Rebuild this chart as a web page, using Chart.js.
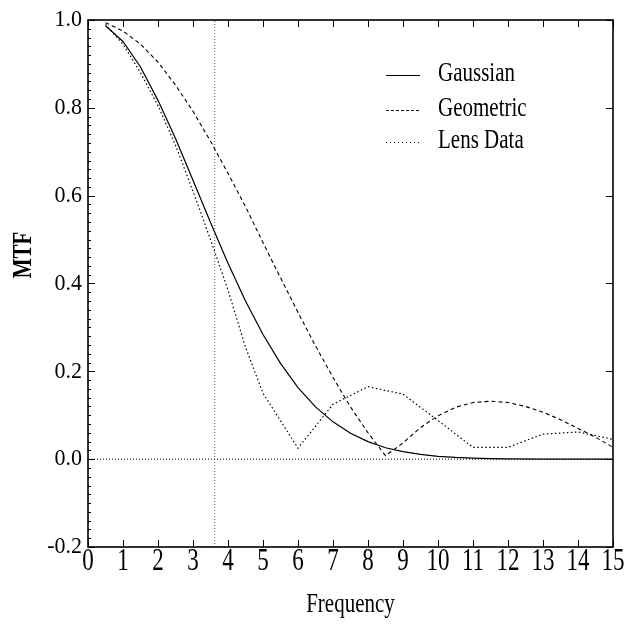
<!DOCTYPE html>
<html>
<head>
<meta charset="utf-8">
<script src="https://cdn.jsdelivr.net/npm/chart.js@4"></script>
<style>
    html, body { margin: 0; padding: 0; background: #fff; }
    #wrap { width: 626px; height: 624px; position: relative; }
</style>
</head>
<body>
<div id="wrap"><canvas id="mtfChart"></canvas></div>
<script>
// Gaussian model MTF
const freqGauss = [0.5, 1, 1.5, 2, 2.5, 3, 3.5, 4, 4.5, 5, 5.5, 6, 6.5, 7, 7.5, 8, 8.5, 9, 9.5, 10, 10.5, 11, 11.5, 12, 13, 14, 15];
const mtfGauss = [0.987, 0.951, 0.893, 0.817, 0.730, 0.635, 0.539, 0.446, 0.360, 0.284, 0.218, 0.163, 0.119, 0.085, 0.059, 0.040, 0.026, 0.017, 0.011, 0.0065, 0.0039, 0.0023, 0.0013, 0.0007, 0.0002, 0.0001, 0];

// Geometric (blur disc) MTF
const freqGeom = [0.5, 1, 1.5, 2, 2.5, 3, 3.5, 4, 4.5, 5, 5.5, 6, 6.5, 7, 7.5, 8, 8.5, 9, 9.5, 10, 10.5, 11, 11.5, 12, 12.5, 13, 13.5, 14, 14.5, 15];
const mtfGeom = [0.994, 0.975, 0.945, 0.904, 0.852, 0.792, 0.724, 0.651, 0.575, 0.493, 0.413, 0.334, 0.258, 0.186, 0.119, 0.060, 0.008, 0.037, 0.072, 0.099, 0.118, 0.129, 0.132, 0.129, 0.120, 0.107, 0.090, 0.070, 0.050, 0.027];

// Measured lens data
const freqLens = [0.5, 1, 1.5, 2, 2.5, 3, 3.5, 4, 4.5, 5, 6, 7, 8, 9, 10, 11, 12, 13, 14, 15];
const mtfLens = [0.99, 0.945, 0.88, 0.805, 0.715, 0.61, 0.50, 0.385, 0.255, 0.15, 0.025, 0.125, 0.165, 0.148, 0.088, 0.027, 0.027, 0.057, 0.062, 0.045];

// Reference lines: zero level and the half-response frequency
const cutoffFreq = 3.62;
const zeroLevel = 0;

// Axes
const xTicks = [0, 1, 2, 3, 4, 5, 6, 7, 8, 9, 10, 11, 12, 13, 14, 15];
const xTickLabels = ["0", "1", "2", "3", "4", "5", "6", "7", "8", "9", "10", "11", "12", "13", "14", "15"];
const yTicks = [-0.2, 0, 0.2, 0.4, 0.6, 0.8, 1.0];
const yTickLabels = ["-0.2", "0.0", "0.2", "0.4", "0.6", "0.8", "1.0"];
const yMinorStep = 0.02;

const legendNames = ["Gaussian", "Geometric", "Lens Data"];

const SERIF = "'Liberation Serif', 'Times New Roman', serif";

function toPoints(xs, ys) {
    return xs.map((x, i) => ({ x: x, y: ys[i] }));
}

// Text in this figure is drawn taller than the face's natural proportions
function stretchedText(ctx, text, x, y, sy, opts) {
    ctx.save();
    ctx.translate(x, y);
    if (opts.rotate) ctx.rotate(opts.rotate);
    ctx.scale(1, sy);
    ctx.font = opts.font;
    ctx.textAlign = opts.align || "center";
    ctx.textBaseline = opts.baseline || "middle";
    ctx.fillStyle = "#000";
    ctx.fillText(text, 0, 0);
    ctx.restore();
}

const frameAndLabels = {
    id: "frameAndLabels",
    afterDatasetsDraw(chart) {
        const ctx = chart.ctx;
        const area = chart.chartArea;
        const xs = chart.scales.x;
        const ys = chart.scales.y;
        const tick = 7;

        ctx.save();
        ctx.strokeStyle = "#000";
        ctx.lineWidth = 1;

        // inward ticks on all four sides
        ctx.beginPath();
        xTicks.forEach((v) => {
            const px = Math.round(xs.getPixelForValue(v)) + 0.5;
            ctx.moveTo(px, area.bottom);
            ctx.lineTo(px, area.bottom - tick);
            ctx.moveTo(px, area.top);
            ctx.lineTo(px, area.top + tick);
        });
        yTicks.forEach((v) => {
            const py = Math.round(ys.getPixelForValue(v)) + 0.5;
            ctx.moveTo(area.left, py);
            ctx.lineTo(area.left + tick, py);
            ctx.moveTo(area.right, py);
            ctx.lineTo(area.right - tick, py);
        });
        ctx.stroke();

        // fine minor ticks along the left axis
        ctx.beginPath();
        for (let v = yTicks[0]; v <= yTicks[yTicks.length - 1] + 1e-9; v += yMinorStep) {
            const py = Math.round(ys.getPixelForValue(v)) + 0.5;
            ctx.moveTo(area.left, py);
            ctx.lineTo(area.left + 3, py);
        }
        ctx.stroke();

        // frame
        ctx.lineWidth = 1.6;
        ctx.strokeRect(area.left, area.top, area.right - area.left, area.bottom - area.top);
        ctx.restore();

        // tick labels
        xTicks.forEach((v, i) => {
            stretchedText(ctx, xTickLabels[i], xs.getPixelForValue(v), 562, 1.4, {
                font: "23px " + SERIF,
            });
        });
        yTicks.forEach((v, i) => {
            stretchedText(ctx, yTickLabels[i], 82, ys.getPixelForValue(v), 1.08, {
                font: "22px " + SERIF,
                align: "right",
            });
        });

        // axis titles
        stretchedText(ctx, "Frequency", (area.left + area.right) / 2, 612, 1.25, {
            font: "21px " + SERIF,
            baseline: "alphabetic",
        });
        stretchedText(ctx, "MTF", 24, 255, 1.25, {
            font: "bold 21px " + SERIF,
            rotate: -Math.PI / 2,
        });

        // legend with line samples taken from the datasets
        const rows = [74, 109, 141];
        legendNames.forEach((name, i) => {
            const ds = chart.data.datasets[i];
            ctx.save();
            ctx.strokeStyle = "#000";
            ctx.lineWidth = 1;
            ctx.setLineDash(i === 0 ? [] : i === 1 ? [3, 2] : [1, 3]);
            ctx.beginPath();
            ctx.moveTo(386, rows[i] + 1.5);
            ctx.lineTo(420, rows[i] + 1.5);
            ctx.stroke();
            ctx.restore();
            stretchedText(ctx, ds.label, 438, rows[i], 1.3, {
                font: "21px " + SERIF,
                align: "left",
            });
        });
    },
};

const ctx = document.getElementById("mtfChart");

new Chart(ctx, {
    type: "line",
    data: {
        datasets: [
            {
                label: legendNames[0],
                data: toPoints(freqGauss, mtfGauss),
                borderColor: "#000",
                borderWidth: 1.2,
            },
            {
                label: legendNames[1],
                data: toPoints(freqGeom, mtfGeom),
                borderColor: "#000",
                borderWidth: 1.1,
                borderDash: [4, 3],
            },
            {
                label: legendNames[2],
                data: toPoints(freqLens, mtfLens),
                borderColor: "#000",
                borderWidth: 1.2,
                borderDash: [1.5, 2.5],
            },
            {
                label: "zero",
                data: [{ x: xTicks[0], y: zeroLevel }, { x: xTicks[xTicks.length - 1], y: zeroLevel }],
                borderColor: "#000",
                borderWidth: 1,
                borderDash: [1, 2],
            },
            {
                label: "cutoff",
                data: [{ x: cutoffFreq, y: yTicks[0] }, { x: cutoffFreq, y: yTicks[yTicks.length - 1] }],
                borderColor: "#555",
                borderWidth: 1,
                borderDash: [1, 2],
            },
        ],
    },
    options: {
        responsive: true,
        maintainAspectRatio: false,
        animation: false,
        layout: {
            padding: { left: 88, right: 13, top: 20, bottom: 77 },
        },
        elements: {
            point: { radius: 0 },
            line: { tension: 0, fill: false },
        },
        plugins: {
            legend: { display: false },
            tooltip: { enabled: false },
        },
        scales: {
            x: {
                type: "linear",
                min: 0,
                max: 15,
                display: false,
            },
            y: {
                type: "linear",
                min: -0.2,
                max: 1.0,
                display: false,
            },
        },
    },
    plugins: [frameAndLabels],
});
</script>
</body>
</html>
